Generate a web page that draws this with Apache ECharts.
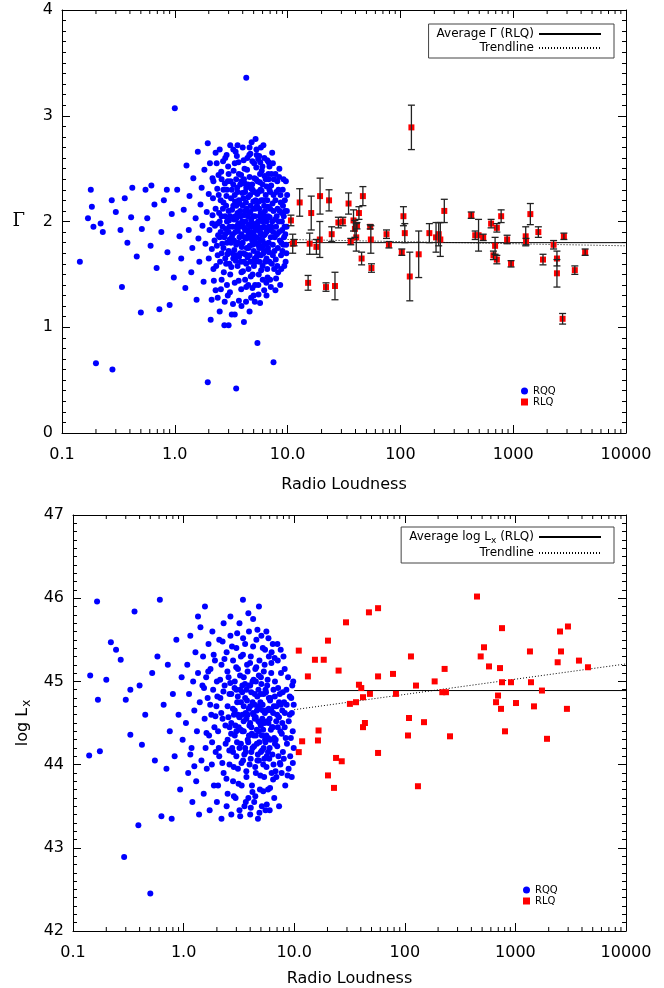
<!DOCTYPE html>
<html>
<head>
<meta charset="utf-8">
<script src="https://cdn.jsdelivr.net/npm/echarts@6/dist/echarts.min.js"></script>
<style>
  html, body { margin: 0; padding: 0; background: #fff; }
  #chart { width: 664px; height: 988px; }
</style>
</head>
<body>
<div id="chart"></div>
<script>
// ---------- data ----------
const xTickLabels = ['0.1', '1.0', '10.0', '100', '1000', '10000'];
const xDecades = [0.1, 1, 10, 100, 1000];
const xMinorSteps = [2, 3, 4, 5, 6, 7, 8, 9];

// Radio-quiet quasars: [radio loudness, photon index]
const rqqGammaPts = [
  [0.144,1.62],[0.17,2.03],[0.18,2.30],[0.184,2.14],[0.19,1.95],[0.2,0.66],[0.22,1.98],[0.23,1.90],[0.28,0.60],[0.276,2.2],
  [0.3,2.09],[0.33,1.92],[0.34,1.38],[0.36,2.22],[0.38,1.80],[0.41,2.04],[0.42,2.32],[0.46,1.67],[0.5,1.14],[0.51,1.93],
  [0.55,2.30],[0.57,2.03],[0.61,1.77],[0.62,2.34],[0.66,2.16],[0.69,1.56],[0.73,1.17],[0.76,1.90],[0.8,2.20],[0.85,2.30],
  [0.86,1.71],[0.9,1.21],[0.94,2.07],[0.98,1.47],[1.0,3.07],[1.05,2.30],[1.1,1.86],[1.14,1.65],[1.2,2.11],[1.24,1.37],
  [1.27,2.53],[1.33,1.92],[1.35,2.24],[1.4,1.52],[1.43,1.75],[1.46,2.41],[1.53,2.03],[1.56,1.26],[1.6,2.66],[1.62,1.84],
  [1.65,1.62],[1.69,2.16],[1.73,2.32],[1.76,1.96],[1.8,1.43],[1.83,2.49],[1.87,1.79],[1.92,2.09],[1.96,2.74],[1.96,0.48],
  [2.0,2.26],[2.0,1.65],[2.03,1.92],[2.08,1.07],[2.12,1.26],[2.16,2.41],[2.16,2.06],
  [2.2,1.55],[2.2,2.38],[2.25,1.82],[2.3,2.12],[2.3,1.35],[2.35,2.55],[2.4,1.98],[2.4,1.68],[2.45,2.25],[2.5,1.15],
  [2.5,2.68],[2.55,1.9],[2.6,2.05],[2.6,1.45],[2.6,2.4],[2.7,1.75],[2.7,2.18],[2.75,1.02],[2.8,2.6],[2.8,1.88],
  [2.85,1.6],[2.9,2.3],[2.9,2.0],[2.95,1.3],[3.0,2.45],[3.0,1.72],[3.0,2.1],[3.05,1.95],[3.1,1.5],[3.1,2.72],
  [3.15,2.22],[3.2,1.85],[3.2,1.12],[3.3,2.35],[3.3,1.65],[3.35,2.02],[3.4,2.55],[3.4,1.42],[3.45,1.9],[3.5,2.15],
  [3.5,0.42],[3.5,1.78],[3.55,2.62],[3.6,1.58],[3.6,2.28],[3.65,1.98],[3.7,1.25],[3.7,2.45],[3.75,1.85],[3.8,2.1],
  [3.8,1.7],[3.9,2.38],[3.9,1.52],[3.95,2.0],[4.0,2.7],[4.0,1.8],[4.05,2.22],[4.1,1.62],[4.1,1.05],[4.15,2.5],
  [4.2,1.92],[4.2,2.1],[4.3,3.36],[4.3,1.38],[4.3,2.32],[4.35,1.75],[4.4,2.6],[4.45,2.05],[4.5,1.55],[4.5,1.88],
  [4.6,2.42],[4.6,1.68],[4.7,2.15],[4.7,1.95],[4.75,1.28],[4.8,2.75],[4.85,1.82],[4.9,2.3],[4.9,1.5],[5.0,2.05],
  [5.0,1.72],[5.05,2.55],[5.1,1.95],[5.15,1.4],[5.2,2.2],[5.2,1.62],[5.3,2.68],[5.3,1.85],[5.4,0.85],[5.4,2.38],
  [5.45,1.78],[5.5,2.0],[5.55,1.5],[5.6,2.62],[5.6,2.12],[5.7,1.23],[5.7,1.9],[5.75,2.3],[5.8,1.68],[5.9,2.48],
  [5.9,2.02],[6.0,1.58],[6.0,1.82],[6.1,2.72],[6.1,2.2],[6.2,1.35],[6.3,2.1],[6.3,1.72],[6.4,2.4],[6.5,1.9],
  [6.6,1.55],[6.6,2.58],[6.7,2.05],[6.8,1.8],[6.9,2.3],[7.0,1.45],[7.0,2.12],[7.2,1.95],[7.3,2.65],[7.4,1.68],
  [7.5,0.67],[7.5,2.25],[7.7,1.85],[7.8,2.45],[8.0,2.05],[8.1,1.58],[8.3,2.3],[8.4,1.9],[8.6,1.4],[8.7,2.18],
  [8.9,2.0],[9.0,1.72],[9.2,2.4],[9.3,1.85],[9.5,2.1],[9.6,1.62],[9.8,1.95],[9.9,2.25],
  [2.5,1.85],[2.5,2.0],[2.55,2.2],[2.6,1.7],[2.65,1.95],[2.7,2.3],[2.75,1.85],[2.8,2.05],[2.8,1.65],[2.85,2.15],
  [2.9,1.8],[2.95,2.38],[3.0,1.9],[3.05,1.6],[3.1,2.05],[3.15,1.8],[3.2,2.3],[3.25,1.95],[3.25,1.7],[3.3,2.15],
  [3.35,1.82],[3.4,2.25],[3.45,2.05],[3.5,1.95],[3.5,2.4],[3.55,1.68],[3.6,2.08],[3.65,1.8],[3.7,2.2],[3.75,1.95],
  [3.8,2.35],[3.85,1.62],[3.85,2.05],[3.9,1.88],[4.0,2.15],[4.0,1.98],[4.05,1.7],[4.1,2.4],[4.15,1.85],[4.2,2.28],
  [4.25,2.0],[4.3,1.6],[4.35,2.12],[4.4,1.92],[4.45,2.35],[4.5,1.75],[4.55,2.08],[4.6,1.85],[4.65,2.25],[4.7,1.62],
  [4.75,2.02],[4.8,1.9],[4.85,2.35],[4.9,1.78],[4.95,2.12],[5.0,1.88],[5.05,2.28],[5.1,1.65],[5.15,2.05],[5.2,1.8],
  [5.25,2.4],[5.3,1.98],[5.35,2.15],[5.4,1.7],[5.5,2.28],[5.55,1.92],[5.6,1.75],[5.65,2.05],[5.7,2.45],[5.8,1.88],
  [5.85,2.2],[5.9,1.75],[6.0,2.35],[6.0,2.0],[6.1,1.7],[6.15,1.95],[6.2,2.15],[6.3,1.88],[6.4,2.25],[6.5,1.65],
  [6.5,2.0],[6.6,2.2],[6.7,1.75],[6.8,2.4],[6.8,1.95],[6.9,1.62],[7.0,2.28],[7.1,1.85],[7.2,2.45],[7.3,2.0],
  [7.4,1.78],[7.5,2.1],[7.6,1.55],[7.8,2.2],[7.9,1.95],[8.1,2.38],[8.2,1.75],[8.5,2.1],[8.8,1.8],[9.1,2.15],
  [9.4,1.95],[9.7,1.78],
  [2.3,2.65],[3.6,2.72],[4.6,2.7],[5.8,2.7],[5.2,2.78],[3.3,2.68],[6.9,2.52],[2.05,2.55],
  [3.0,1.02],[3.4,1.12],[4.6,1.15],[2.4,1.28],[6.5,1.3],[5.0,1.3],[3.9,1.2],[2.9,1.4],[4.2,1.45],[5.5,1.4],
  [7.8,1.35],[8.8,1.55],
  [2.13,1.74],[2.18,2.22],[2.27,1.96],[2.33,1.58],[2.38,2.31],[2.42,1.87],[2.47,2.08],[2.52,1.62],[2.58,2.47],[2.63,1.79],
  [2.67,2.12],[2.72,1.52],[2.78,2.36],[2.83,1.93],[2.87,2.24],[2.93,1.69],[2.97,2.52],[3.02,2.01],[3.07,1.83],[3.12,2.38],
  [3.17,1.57],[3.22,2.11],[3.27,1.88],[3.32,2.48],[3.37,1.73],[3.42,2.19],[3.47,1.63],[3.52,2.03],[3.57,2.32],[3.62,1.91],
  [3.67,2.56],[3.72,1.67],[3.77,2.17],[3.82,1.97],[3.87,2.44],[3.92,1.76],[3.97,2.27],[4.02,1.53],[4.07,2.06],[4.12,1.94],
  [4.17,2.36],[4.22,1.69],[4.27,2.18],[4.32,1.84],[4.37,2.49],[4.42,1.66],[4.47,2.23],[4.52,1.97],[4.57,2.63],[4.62,1.77],
  [4.67,2.09],[4.72,1.48],[4.77,2.31],[4.82,1.99],[4.87,2.57],[4.92,1.86],[4.97,2.19],[5.03,1.58],[5.08,2.41],[5.13,1.81],
  [5.18,2.12],[5.23,1.92],[5.28,2.51],[5.33,1.67],[5.38,2.26],[5.43,1.96],[5.48,2.59],[5.53,1.79],[5.58,2.19],[5.63,1.62],
  [5.68,2.37],[5.73,1.83],[5.78,2.08],[5.83,1.54],[5.88,2.29],[5.93,1.94],[5.98,2.52],[6.05,1.77],[6.12,2.06],[6.18,1.87],
  [6.24,2.43],[6.32,1.62],[6.38,2.02],[6.44,1.79],[6.52,2.33],[6.58,1.92],[6.64,1.47],[6.72,2.14],[6.78,2.56],[6.85,1.71],
  [6.94,2.04],[7.05,1.92],[7.15,2.34],[7.25,1.6],[7.35,2.17],[7.45,1.9],[7.55,2.4],[7.65,1.72],[7.75,2.02],[7.85,1.64],
  [7.95,2.28],[8.05,1.88],[8.15,2.12],[8.25,1.52],[8.35,2.0],[8.45,2.5],[8.55,1.82],[8.65,2.25],[8.75,1.68],[8.85,2.08],
  [8.95,1.92],[9.05,2.3],[9.15,1.78],[9.25,2.05],[9.35,1.58],[9.45,2.2],[9.55,1.88],[9.65,2.38],[9.75,1.7],[9.85,2.1],
  [2.15,1.98],[2.22,1.44],[2.36,1.77],[2.44,2.44],[2.56,1.36],[2.68,2.57],[2.77,1.24],[2.88,2.63],[3.08,1.33],[3.28,1.22],
  [3.46,2.66],[3.68,1.44],[3.88,1.36],[4.08,2.58],[4.28,1.24],[4.48,1.4],[4.68,2.64],[4.88,1.37],[5.12,1.24],[5.32,2.63],
  [5.52,1.31],[5.72,2.56],[6.02,1.45],[6.22,2.6],[6.48,1.42],[6.75,2.45],[7.1,1.38],[7.4,2.55],[7.9,1.46],[8.4,2.42]
];

// Radio-loud quasars: photon index with 1-sigma errors
const rlqTopR = [10.7, 11.1, 11.4, 12.8, 15.2, 15.7, 16.2, 18.0, 19.3, 19.4, 21.9, 23.3, 24.6, 26.3, 28.2, 30.9,
  34.7, 36.3, 38.4, 39.5, 40.6, 41.2, 42.9, 45.3, 46.5, 54.0, 54.7, 55.4, 75.3, 79.1, 102.9, 106.4, 109.4, 121.1,
  125.2, 145.3, 180.6, 207, 218.5, 225.9, 245, 424.6, 460.6, 493, 542, 637, 668, 691, 716, 716, 782, 883, 957,
  1291, 1300, 1419, 1671, 1837, 2281, 2442, 2442, 2814, 2741, 3518, 4343];
const rlqTopGamma = [2.01, 1.79, 1.80, 2.18, 1.42, 1.79, 2.08, 1.76, 1.83, 2.24, 1.38, 2.20, 1.88, 1.39, 1.99, 2.00,
  2.17, 1.81, 2.01, 1.93, 1.85, 1.96, 2.08, 1.65, 2.24, 1.95, 1.83, 1.56, 1.88, 1.78, 1.71, 2.05, 1.89, 1.48,
  2.89, 1.69, 1.89, 1.85, 1.88, 1.83, 2.10, 2.06, 1.87, 1.87, 1.85, 1.98, 1.68, 1.77, 1.64, 1.94, 2.05, 1.83, 1.60,
  1.86, 1.81, 2.07, 1.90, 1.64, 1.78, 1.65, 1.51, 1.86, 1.08, 1.54, 1.71];
const rlqTopErr = [0.05, 0.09, 0.03, 0.13, 0.07, 0.10, 0.16, 0.07, 0.17, 0.17, 0.04, 0.10, 0.07, 0.13, 0.05, 0.04,
  0.10, 0.03, 0.10, 0.08, 0.13, 0.03, 0.06, 0.06, 0.09, 0.02, 0.13, 0.04, 0.04, 0.03, 0.03, 0.09, 0.09, 0.23,
  0.21, 0.22, 0.09, 0.14, 0.11, 0.16, 0.11, 0.03, 0.04, 0.15, 0.03, 0.04, 0.04, 0.08, 0.04, 0.04, 0.06, 0.04, 0.03,
  0.09, 0.03, 0.10, 0.05, 0.05, 0.04, 0.07, 0.13, 0.03, 0.05, 0.04, 0.03];
const avgGammaRLQ = 1.80;
const trendGammaR = [10, 10000];
const trendGammaVal = [1.83, 1.77];

// Radio-quiet quasars: [radio loudness, log Lx]
const rqqLxPts = [
  [0.143,45.07],[0.165,45.96],[0.168,44.78],[0.14,44.11],[0.175,44.16],[0.2,45.02],[0.22,45.47],[0.245,45.38],[0.27,45.26],[0.29,42.89],
  [0.3,44.78],[0.33,44.9],[0.33,44.36],[0.36,45.84],[0.39,43.27],[0.4,44.95],[0.42,44.24],[0.45,44.6],[0.5,42.45],[0.52,45.1],
  [0.55,44.05],[0.58,45.3],[0.61,45.98],[0.63,43.38],[0.66,44.72],[0.7,43.95],[0.72,45.2],[0.75,44.4],[0.78,43.35],[0.8,44.85],
  [0.83,44.1],[0.86,45.5],[0.9,44.6],[0.93,43.7],[0.96,45.05],[0.98,44.3],
  [1.05,44.5],[1.08,45.2],[1.1,43.9],[1.12,44.85],[1.15,45.55],[1.18,44.2],[1.2,43.55],[1.22,45.0],[1.25,44.65],[1.28,45.35],
  [1.3,43.8],[1.32,44.4],[1.35,45.1],[1.38,43.4],[1.4,44.75],[1.42,45.65],[1.45,44.05],[1.48,44.95],[1.5,45.3],[1.52,43.65],
  [1.55,44.55],[1.56,45.9],[1.58,44.2],[1.6,45.05],[1.62,43.95],[1.65,44.8],[1.68,45.45],[1.7,44.35],[1.72,43.45],[1.75,45.15],
  [1.78,44.6],[1.8,44.0],[1.82,45.6],[1.85,44.9],[1.88,43.75],[1.9,44.45],[1.92,45.25],[1.95,44.15],[1.98,44.7],
  [2.0,45.0],[2.0,43.55],[2.05,44.4],[2.1,45.5],[2.1,44.1],[2.15,44.8],[2.2,43.35],[2.2,45.2],[2.25,44.55],[2.3,43.9],
  [2.3,45.7],[2.35,44.95],[2.4,44.25],[2.45,45.35],[2.5,43.65],[2.5,44.7],[2.55,45.05],[2.6,44.0],[2.6,44.45],[2.65,45.55],
  [2.7,43.4],[2.7,44.85],[2.75,44.2],[2.8,45.25],[2.8,43.8],[2.85,44.6],[2.9,45.0],[2.9,44.35],[2.95,43.6],[3.0,45.4],
  [3.0,44.1],[3.05,44.75],[3.1,43.95],[3.1,45.15],[3.15,44.45],[3.2,45.7],[3.2,43.45],[3.25,44.9],[3.3,44.25],[3.3,45.3],
  [3.35,43.75],[3.4,44.6],[3.44,45.98],[3.45,44.05],[3.5,45.05],[3.5,44.4],[3.55,43.5],[3.6,44.8],[3.6,45.45],[3.65,44.15],
  [3.7,43.85],[3.7,44.55],[3.75,45.2],[3.8,44.3],[3.85,43.6],[3.9,44.95],[3.9,45.6],[3.95,44.0],[4.0,44.7],[4.0,43.4],
  [4.05,45.3],[4.1,44.45],[4.15,43.75],[4.2,45.0],[4.2,44.2],[4.25,45.75],[4.3,44.6],[4.35,43.55],[4.4,44.85],[4.45,45.15],
  [4.5,44.35],[4.5,43.9],[4.55,45.5],[4.6,44.65],[4.65,44.05],[4.7,43.35],[4.75,44.9],[4.8,45.9],[4.8,44.4],[4.85,45.25],
  [4.9,43.7],[4.95,44.75],[5.0,44.15],[5.0,45.05],[5.1,43.5],[5.15,44.55],[5.2,45.4],[5.25,44.0],[5.3,44.85],[5.35,43.85],
  [5.4,45.2],[5.45,44.3],[5.5,43.45],[5.55,44.65],[5.6,45.6],[5.65,44.1],[5.7,44.95],[5.8,43.7],[5.85,44.5],[5.9,45.3],
  [6.0,44.2],[6.0,43.45],[6.1,44.8],[6.2,45.1],[6.25,43.9],[6.3,44.45],[6.4,45.45],[6.5,44.0],[6.55,44.7],[6.6,43.6],
  [6.7,45.0],[6.8,44.3],[6.9,43.85],[7.0,44.6],[7.1,45.25],[7.2,44.1],[7.3,43.5],[7.4,44.85],[7.5,44.4],[7.6,45.1],
  [7.7,43.9],[7.8,44.65],[7.9,44.15],[8.0,45.3],[8.2,44.45],[8.3,43.75],[8.5,44.9],[8.6,44.25],[8.8,45.05],[8.9,43.95],
  [9.1,44.6],[9.2,44.1],[9.4,44.8],[9.5,43.85],[9.7,44.4],[9.8,45.0],[9.9,44.2],
  [2.5,44.3],[2.6,44.85],[2.7,44.5],[2.8,44.15],[2.9,44.65],[3.0,44.4],[3.0,44.9],[3.1,44.6],[3.2,44.2],[3.3,44.75],
  [3.4,44.4],[3.4,44.95],[3.5,44.7],[3.6,44.2],[3.7,44.9],[3.8,44.6],[3.9,44.35],[4.0,44.95],[4.0,44.5],[4.1,44.15],
  [4.2,44.75],[4.3,44.35],[4.4,44.55],[4.5,45.0],[4.6,44.25],[4.7,44.7],[4.8,44.05],[4.9,44.5],[5.0,44.85],[5.1,44.35],
  [5.2,44.65],[5.3,44.2],[5.4,44.5],[5.5,44.9],[5.6,44.35],[5.7,44.65],[5.8,44.15],[5.9,44.8],[6.0,44.55],[6.1,44.3],
  [6.2,44.65],[6.4,44.45],[6.5,44.9],[6.7,44.25],[6.9,44.7],[7.1,44.45],[7.3,44.75],[7.5,44.0],[7.8,44.5],[8.1,44.75],
  [1.53,44.92],[1.61,44.38],[1.67,45.12],[1.74,44.72],[1.81,44.27],[1.87,45.32],[1.94,44.58],[2.02,44.82],[2.08,44.2],[2.14,45.02],
  [2.19,44.62],[2.24,44.02],[2.29,44.88],[2.34,45.27],[2.39,44.47],[2.44,43.83],[2.49,45.12],[2.54,44.57],[2.59,44.17],[2.64,44.98],
  [2.69,44.37],[2.74,45.42],[2.79,44.67],[2.84,43.97],[2.89,44.92],[2.94,44.47],[2.99,45.17],[3.04,44.27],[3.09,44.82],[3.14,43.77],
  [3.19,44.57],[3.24,45.07],[3.29,44.42],[3.34,44.02],[3.39,44.87],[3.44,45.32],[3.49,44.52],[3.54,44.12],[3.59,44.97],[3.64,44.62],
  [3.69,43.92],[3.74,44.77],[3.79,45.12],[3.84,44.27],[3.89,44.67],[3.94,44.47],[3.99,45.22],[4.04,44.07],[4.09,44.87],[4.14,44.37],
  [4.19,43.67],[4.24,44.62],[4.29,45.02],[4.34,44.22],[4.39,44.72],[4.44,43.97],[4.49,44.57],[4.54,45.17],[4.59,44.42],[4.64,44.82],
  [4.69,44.12],[4.74,44.52],[4.79,45.07],[4.84,44.27],[4.89,44.67],[4.94,43.87],[4.99,44.47],[5.05,44.97],[5.12,44.17],[5.18,44.72],
  [5.24,44.42],[5.31,45.12],[5.37,44.07],[5.43,44.62],[5.49,44.27],[5.56,44.87],[5.62,43.97],[5.69,44.52],[5.75,45.02],[5.82,44.32],
  [5.88,44.67],[5.95,44.07],[6.05,44.77],[6.15,44.42],[6.22,45.22],[6.35,44.12],[6.45,44.62],[6.58,44.32],[6.68,44.82],[6.78,43.92],
  [6.88,44.52],[7.02,44.22],[7.15,44.92],[7.28,44.57],[7.42,44.02],[7.58,44.72],[7.72,44.37],[7.88,44.87],[8.05,44.07],[8.22,44.62],
  [8.38,44.32],[8.55,44.72],[8.72,43.87],[8.92,44.52],[9.12,44.82],[9.32,44.32],[9.52,44.62],[9.72,44.02],[9.9,44.72],[9.6,44.95],
  [2.05,43.75],[2.45,43.5],[2.85,43.62],[3.25,43.38],[3.65,43.55],[4.05,43.48],[4.45,43.62],[4.85,43.42],[5.25,43.68],[5.65,43.52],
  [6.05,43.72],[6.45,43.82],[2.25,45.48],[2.65,45.78],[3.05,45.58],[3.45,45.52],[3.85,45.82],[4.25,45.42],[4.65,45.62],[5.05,45.55],
  [5.45,45.38],[5.85,45.52],[6.25,45.35],[6.65,45.28],[7.05,45.45],[7.55,45.38],[8.2,45.15],[1.35,45.78],[1.15,44.12],[1.25,43.98]
];

// Radio-loud quasars: log Lx
const rlqLxR = [11.0, 13.3, 11.0, 11.8, 15.4, 18.5, 16.6, 16.4, 20.2, 25.2, 29.4, 23.9, 26.9, 20.2, 22.9, 31.9,
  36.2, 38.5, 40.4, 41.9, 48.4, 43.6, 41.9, 47.4, 57.3, 57.3, 57.3, 78.2, 83.2, 113.7, 126.2, 109.1, 149.2, 106.9,
  131.5, 186.2, 229.1, 218.3, 235.6, 256.3, 449.8, 485.5, 520.4, 577.2, 726, 756.8, 756.8, 912.6, 696.6, 668.3,
  741.3, 805.2, 1012, 1354, 1383, 1472, 1738, 1931, 2411, 2531, 2584, 2987, 2924, 3756, 4530];
const rlqLx = [45.37, 45.06, 44.15, 44.28, 45.26, 45.26, 44.41, 44.29, 45.49, 45.13, 45.71, 44.08, 44.04, 43.87,
  43.72, 44.73, 44.75, 44.96, 44.92, 44.81, 44.85, 44.50, 44.45, 45.83, 45.88, 45.06, 44.14, 45.09, 44.85, 45.30,
  44.95, 44.56, 44.51, 44.35, 43.74, 45.00, 45.15, 44.87, 44.87, 44.34, 46.02, 45.30, 45.41, 45.18, 45.16, 45.64,
  44.99, 44.99, 44.83, 44.75, 44.67, 44.40, 44.74, 45.36, 44.99, 44.70, 44.89, 44.31, 45.23, 45.60, 45.36, 45.66,
  44.67, 45.25, 45.17];
const avgLxRLQ = 44.89;
const trendLxR = [10, 10000];
const trendLxVal = [44.66, 45.21];

// ---------- chart ----------
const FONT = 'DejaVu Sans';
const xMinorTicks = [];
xDecades.forEach(d => xMinorSteps.forEach(k => xMinorTicks.push(d * k)));

const zip = (a, b) => a.map((v, i) => [v, b[i]]);

function xAxisCfg(gridIndex, position, withLabels, nameGap) {
  return {
    type: 'log', logBase: 10, min: 0.1, max: 10000, gridIndex, position,
    axisLine: { show: true, onZero: false, lineStyle: { color: '#000', width: 1 } },
    axisTick: { show: true, inside: true, length: 8, lineStyle: { color: '#000' } },
    axisLabel: {
      show: withLabels, margin: 14, fontFamily: FONT, fontSize: 16, color: '#000',
      formatter: v => xTickLabels[Math.round(Math.log10(v)) + 1]
    },
    splitLine: { show: false },
    name: withLabels ? 'Radio Loudness' : '',
    nameLocation: 'middle', nameGap,
    nameTextStyle: { fontFamily: FONT, fontSize: 16, color: '#000' }
  };
}

function yAxisCfg(gridIndex, position, min, max, withLabels, extra) {
  return Object.assign({
    type: 'value', gridIndex, position, min, max, interval: 1,
    axisLine: { show: true, onZero: false, lineStyle: { color: '#000', width: 1 } },
    axisTick: { show: true, inside: true, length: 8, lineStyle: { color: '#000' } },
    minorTick: { show: true, splitNumber: 10, length: 4, lineStyle: { color: '#000' } },
    axisLabel: { show: withLabels, margin: 9, fontFamily: FONT, fontSize: 16, color: '#000' },
    splitLine: { show: false }, minorSplitLine: { show: false }
  }, extra || {});
}

function minorTickSeries(xIdx, yIdx, yMin, yMax) {
  return {
    type: 'custom', xAxisIndex: xIdx, yAxisIndex: yIdx, silent: true, z: 4,
    data: xMinorTicks.map(v => [v, yMin]),
    encode: { x: 0, y: 1 },
    renderItem: (params, api) => {
      const v = api.value(0);
      const b = api.coord([v, yMin]);
      const t = api.coord([v, yMax]);
      const st = { stroke: '#000', lineWidth: 1 };
      return {
        type: 'group', children: [
          { type: 'line', shape: { x1: b[0], y1: b[1], x2: b[0], y2: b[1] - 4 }, style: st },
          { type: 'line', shape: { x1: t[0], y1: t[1], x2: t[0], y2: t[1] + 4 }, style: st }
        ]
      };
    }
  };
}

const errData = rlqTopR.map((r, i) => [r, rlqTopGamma[i] - rlqTopErr[i], rlqTopGamma[i] + rlqTopErr[i]]);

// legend boxes for the reference lines: line sample only, no marker
const lineLegendBase = {
  orient: 'vertical', align: 'right', right: 50, padding: [4, 12, 4, 8], itemGap: 2,
  itemWidth: 62, itemHeight: 12, borderColor: '#444', borderWidth: 1, selectedMode: false,
  itemStyle: { color: 'rgba(0,0,0,0)', borderColor: 'rgba(0,0,0,0)', borderWidth: 0 }
};
const markLegendBase = {
  orient: 'vertical', align: 'left', padding: 0, itemGap: 1, itemWidth: 7, itemHeight: 7, selectedMode: false,
  textStyle: { fontFamily: FONT, fontSize: 10, color: '#000', lineHeight: 10 }
};

const option = {
  animation: false,
  backgroundColor: '#fff',
  grid: [
    { left: 62, top: 10, width: 564, height: 423 },
    { left: 73, top: 515, width: 553, height: 417 }
  ],
  xAxis: [
    xAxisCfg(0, 'bottom', true, 44),
    xAxisCfg(0, 'top', false, 0),
    xAxisCfg(1, 'bottom', true, 40),
    xAxisCfg(1, 'top', false, 0)
  ],
  yAxis: [
    yAxisCfg(0, 'left', 0, 4, true, {
      name: 'Γ', nameLocation: 'middle', nameGap: 37, nameRotate: 0,
      nameTextStyle: { fontFamily: 'DejaVu Serif', fontSize: 18, color: '#000' }
    }),
    yAxisCfg(0, 'right', 0, 4, false),
    yAxisCfg(1, 'left', 42, 47, true, {
      name: 'log L{s|x}', nameLocation: 'middle', nameGap: 36,
      nameTextStyle: {
        fontFamily: FONT, fontSize: 16, color: '#000', lineHeight: 20, verticalAlign: 'middle',
        rich: { s: { fontFamily: FONT, fontSize: 12, color: '#000', lineHeight: 20, verticalAlign: 'bottom', padding: [0, 0, 0, 1] } }
      }
    }),
    yAxisCfg(1, 'right', 42, 47, false)
  ],
  legend: [
    Object.assign({}, lineLegendBase, {
      data: ['Average Γ (RLQ)', 'Trendline'], top: 24,
      textStyle: { fontFamily: FONT, fontSize: 12, color: '#000' }
    }),
    Object.assign({}, markLegendBase, { data: ['RQQ', 'RLQ'], left: 521, top: 386 }),
    Object.assign({}, lineLegendBase, {
      data: ['Average log Lx (RLQ)', 'Trendline'], top: 527,
      formatter: name => name === 'Average log Lx (RLQ)' ? '{t|Average log L}{s|x}{t| (RLQ)}' : name,
      textStyle: {
        fontFamily: FONT, fontSize: 12, color: '#000',
        rich: {
          t: { fontFamily: FONT, fontSize: 12, color: '#000', lineHeight: 16, verticalAlign: 'middle' },
          s: { fontFamily: FONT, fontSize: 9, color: '#000', lineHeight: 16, verticalAlign: 'bottom' }
        }
      }
    }),
    Object.assign({}, markLegendBase, { data: ['RQQ', 'RLQ'], left: 523, top: 885 })
  ],
  series: [
    // ---- upper panel: photon index ----
    {
      name: 'RQQ', type: 'scatter', xAxisIndex: 0, yAxisIndex: 0, symbol: 'circle', symbolSize: 6,
      itemStyle: { color: '#0000ff', opacity: 1 }, data: rqqGammaPts, z: 2
    },
    {
      name: 'Average Γ (RLQ)', type: 'line', xAxisIndex: 0, yAxisIndex: 0, symbol: 'none',
      lineStyle: { color: '#000', width: 1, type: 'solid' },
      data: [[trendGammaR[0], avgGammaRLQ], [trendGammaR[1], avgGammaRLQ]], z: 2
    },
    {
      name: 'Trendline', type: 'line', xAxisIndex: 0, yAxisIndex: 0, symbol: 'none',
      lineStyle: { color: '#000', width: 1, type: [1, 2] },
      data: zip(trendGammaR, trendGammaVal), z: 2
    },
    {
      name: 'RLQ', type: 'scatter', xAxisIndex: 0, yAxisIndex: 0, symbol: 'rect', symbolSize: 6,
      itemStyle: { color: '#ff0000', opacity: 1 }, data: zip(rlqTopR, rlqTopGamma), z: 3
    },
    {
      type: 'custom', xAxisIndex: 0, yAxisIndex: 0, silent: true, z: 4,
      data: errData, encode: { x: 0, y: [1, 2] },
      renderItem: (params, api) => {
        const x = api.value(0);
        const lo = api.coord([x, api.value(1)]);
        const hi = api.coord([x, api.value(2)]);
        const cap = 3.5;
        const st = { stroke: '#222', lineWidth: 1.3 };
        return {
          type: 'group', children: [
            { type: 'line', shape: { x1: lo[0], y1: lo[1], x2: hi[0], y2: hi[1] }, style: st },
            { type: 'line', shape: { x1: lo[0] - cap, y1: lo[1], x2: lo[0] + cap, y2: lo[1] }, style: st },
            { type: 'line', shape: { x1: hi[0] - cap, y1: hi[1], x2: hi[0] + cap, y2: hi[1] }, style: st }
          ]
        };
      }
    },
    minorTickSeries(0, 0, 0, 4),

    // ---- lower panel: X-ray luminosity ----
    {
      name: 'RQQ', type: 'scatter', xAxisIndex: 2, yAxisIndex: 2, symbol: 'circle', symbolSize: 6,
      itemStyle: { color: '#0000ff', opacity: 1 }, data: rqqLxPts, z: 2
    },
    {
      name: 'Average log Lx (RLQ)', type: 'line', xAxisIndex: 2, yAxisIndex: 2, symbol: 'none',
      lineStyle: { color: '#000', width: 1, type: 'solid' },
      data: [[trendLxR[0], avgLxRLQ], [trendLxR[1], avgLxRLQ]], z: 2
    },
    {
      name: 'Trendline', type: 'line', xAxisIndex: 2, yAxisIndex: 2, symbol: 'none',
      lineStyle: { color: '#000', width: 1, type: [1, 2] },
      data: zip(trendLxR, trendLxVal), z: 2
    },
    {
      name: 'RLQ', type: 'scatter', xAxisIndex: 2, yAxisIndex: 2, symbol: 'rect', symbolSize: 6,
      itemStyle: { color: '#ff0000', opacity: 1 }, data: zip(rlqLxR, rlqLx), z: 3
    },
    minorTickSeries(2, 2, 42, 47)
  ]
};

const chart = echarts.init(document.getElementById('chart'));
chart.setOption(option);
</script>
</body>
</html>
